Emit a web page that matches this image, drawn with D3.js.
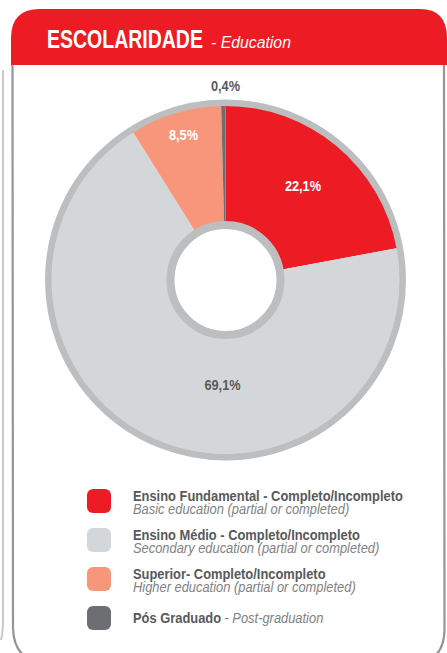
<!DOCTYPE html>
<html>
<head>
<meta charset="utf-8">
<script src="https://cdn.jsdelivr.net/npm/d3@7"></script>
<style>
  body { margin: 0; background: #fff; }
  svg { display: block; font-family: "Liberation Sans", Arial, sans-serif; }
</style>
</head>
<body>
<svg id="chart" width="447" height="653"></svg>
<script>
// ---- data
const categories = ["Ensino Fundamental", "Ensino Médio", "Superior", "Pós Graduado"];
const values = [22.1, 69.1, 8.5, 0.4];
const labels = ["22,1%", "69,1%", "8,5%", "0,4%"];
const legendMain = ["Ensino Fundamental - Completo/Incompleto", "Ensino Médio - Completo/Incompleto", "Superior- Completo/Incompleto", "Pós Graduado"];
const legendSub = ["Basic education (partial or completed)", "Secondary education (partial or completed)", "Higher education (partial or completed)", "Post-graduation"];
const colors = ["#ED1C24", "#D4D7D9", "#F7967A", "#6D6E71"];

const svg = d3.select("#chart");
const SQ = 0.78; // condensed look

// ---- neighbour panel edge + panel frame
svg.append("path")
   .attr("d", "M3,70 L3,620 Q3,632 1,640")
   .attr("fill", "none")
   .attr("stroke", "#c8c9cb")
   .attr("stroke-width", 2);

svg.append("path")
   .attr("d", "M12.5,60 L13,628 Q14,660 42,662 L418,662 Q444,660 444.5,630 L444,60")
   .attr("fill", "none")
   .attr("stroke", "#939598")
   .attr("stroke-width", 2.2);

// ---- header
svg.append("path")
   .attr("d", "M11,65 L11,38 Q11,9 40,9 L420,9 Q447,9 447,38 L447,65 Z")
   .attr("fill", "#ED1C24");

svg.append("text")
   .attr("transform", `translate(47,48) scale(${SQ},1)`)
   .attr("fill", "#fff")
   .attr("font-size", 25)
   .attr("font-weight", "bold")
   .text("ESCOLARIDADE");
svg.append("text")
   .attr("transform", "translate(211,48) scale(0.93,1)")
   .attr("fill", "#fff")
   .attr("font-size", 17)
   .attr("font-style", "italic")
   .text("- Education");

// ---- donut
const cx = 225.5, cy = 280;
const g = svg.append("g").attr("transform", `translate(${cx},${cy})`);

const pie = d3.pie().sort(null).value(d => d);
const arcs = pie(values);
const arc = d3.arc().innerRadius(58).outerRadius(174);

// outer gray ring
g.append("circle").attr("r", 177).attr("fill", "none")
   .attr("stroke", "#BCBEC0").attr("stroke-width", 7);

g.selectAll(".slice")
   .data(arcs)
   .join("path")
   .attr("class", "slice")
   .attr("d", arc)
   .attr("fill", (_, i) => colors[i]);

// inner ring + hole
g.append("circle").attr("r", 55).attr("fill", "#fff")
   .attr("stroke", "#BCBEC0").attr("stroke-width", 8);

// ---- slice labels
const labelArc = d3.arc().innerRadius(118).outerRadius(118);
const labelPos = (d, i) => {
   if (i === 3) return [0, -194];
   if (i === 1) return [-3, 105];
   if (i === 2) return [-42, -145];
   const c = labelArc.centroid(d);
   return [c[0] + 2, c[1] - 4];
};
g.selectAll(".lbl")
   .data(arcs)
   .join("text")
   .attr("class", "lbl")
   .attr("transform", (d, i) => `translate(${labelPos(d, i)}) scale(0.85,1)`)
   .attr("text-anchor", "middle")
   .attr("dy", "0.35em")
   .attr("font-size", 15)
   .attr("font-weight", "bold")
   .attr("fill", (_, i) => (i === 0 || i === 2) ? "#fff" : "#58595B")
   .text((_, i) => labels[i]);

// ---- legend
const ly = d3.scalePoint().domain(categories).range([501, 618]);
const leg = svg.selectAll(".leg")
   .data(categories)
   .join("g")
   .attr("class", "leg")
   .attr("transform", d => `translate(0,${ly(d)})`);

leg.append("rect")
   .attr("x", 87).attr("y", -12)
   .attr("width", 24).attr("height", 24)
   .attr("rx", 6)
   .attr("fill", (_, i) => colors[i]);

leg.each(function (d, i) {
   const el = d3.select(this);
   if (i === 3) {
      const t = el.append("text").attr("transform", "translate(133,5) scale(0.86,1)").attr("font-size", 15);
      t.append("tspan").attr("font-weight", "bold").attr("fill", "#58595B").text(legendMain[i]);
      t.append("tspan").attr("fill", "#808285").attr("dx", 4).text("- ");
      t.append("tspan").attr("fill", "#808285").attr("font-style", "italic").text(legendSub[i]);
   } else {
      el.append("text").attr("transform", "translate(133,0) scale(0.86,1)")
         .attr("font-size", 15).attr("font-weight", "bold").attr("fill", "#58595B")
         .text(legendMain[i]);
      el.append("text").attr("transform", "translate(133,13) scale(0.86,1)")
         .attr("font-size", 15).attr("font-style", "italic").attr("fill", "#808285")
         .text(legendSub[i]);
   }
});
</script>
</body>
</html>
